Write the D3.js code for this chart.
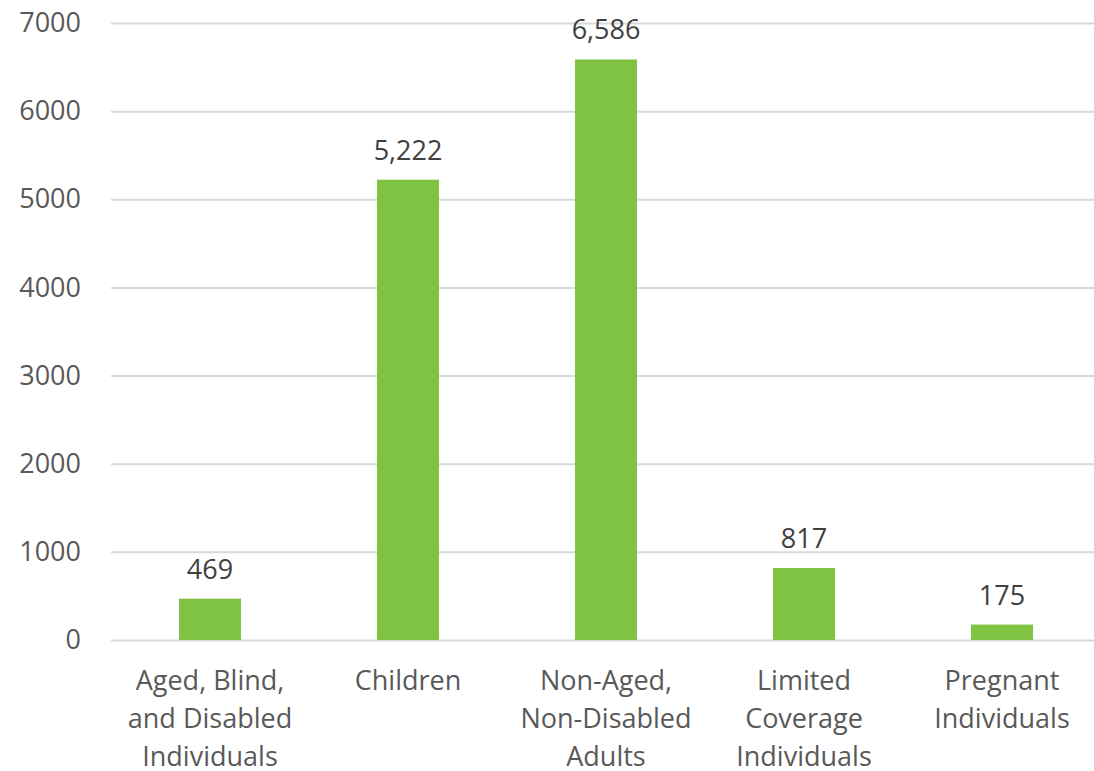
<!DOCTYPE html>
<html lang="en">
<head>
  <meta charset="UTF-8" />
  <script src="https://d3js.org/d3.v7.min.js"></script>
  <style>
    body { margin: 0; background: #fff; }
    text { font-family: "Open Sans", "Noto Sans", sans-serif; }
    .gridlines line { stroke: #d9d9d9; stroke-width: 2px; }
    .gridlines .domain { stroke: none; }
    .y.axis .domain, .y.axis line { display: none; }
  </style>
</head>
<body>
  <svg id="chart" width="1094" height="771"></svg>
  <script>
    const categories = [
      ["Aged, Blind,", "and Disabled", "Individuals"],
      ["Children"],
      ["Non-Aged,", "Non-Disabled", "Adults"],
      ["Limited", "Coverage", "Individuals"],
      ["Pregnant", "Individuals"]
    ];
    const values = [469, 5222, 6586, 817, 175];
    const yTicks = [0, 1000, 2000, 3000, 4000, 5000, 6000, 7000];

    const svg = d3.select("#chart");
    const margin = { top: 23, left: 111, bottom: 131 };
    const height = +svg.attr("height");
    const baseY = height - margin.bottom;

    const keys = categories.map((c, i) => i);
    const x = d3.scaleBand()
      .domain(keys)
      .range([margin.left, margin.left + 990])
      .paddingInner(0.687)
      .paddingOuter(0.3435);
    const y = d3.scaleLinear().domain([0, 7000]).range([baseY, margin.top]);

    // gridlines
    svg.append("g")
      .attr("class", "gridlines")
      .attr("transform", `translate(${margin.left},0)`)
      .call(d3.axisLeft(y).tickValues(yTicks).tickSize(-(1094 - margin.left)).tickFormat(""));

    // y labels
    svg.append("g")
      .attr("class", "y axis")
      .attr("transform", `translate(${margin.left},0)`)
      .call(d3.axisLeft(y).tickValues(yTicks).tickSize(0).tickPadding(30).tickFormat(d3.format("d")))
      .selectAll("text")
      .attr("font-size", "27px")
      .attr("fill", "#595959")
      .style("font-family", "'Open Sans', sans-serif");

    // bars
    svg.selectAll("rect.bar").data(values)
      .join("rect")
      .attr("class", "bar")
      .attr("x", (d, i) => x(i))
      .attr("width", x.bandwidth())
      .attr("y", d => y(d))
      .attr("height", d => baseY - y(d))
      .attr("fill", "#80c342");

    // value labels
    svg.selectAll("text.val").data(values)
      .join("text")
      .attr("class", "val")
      .attr("x", (d, i) => x(i) + x.bandwidth() / 2)
      .attr("y", d => y(d) - 20)
      .attr("text-anchor", "middle")
      .attr("font-size", "27px")
      .attr("fill", "#404040")
      .text(d => d3.format(",")(d));

    // category labels
    const cat = svg.selectAll("text.cat").data(categories)
      .join("text")
      .attr("class", "cat")
      .attr("text-anchor", "middle")
      .attr("font-size", "27px")
      .attr("fill", "#595959")
      .attr("transform", (d, i) => `translate(${x(i) + x.bandwidth() / 2},${baseY + 50})`);
    cat.selectAll("tspan").data(d => d)
      .join("tspan")
      .attr("x", 0)
      .attr("y", (d, i) => i * 38)
      .text(d => d);
  </script>
</body>
</html>
